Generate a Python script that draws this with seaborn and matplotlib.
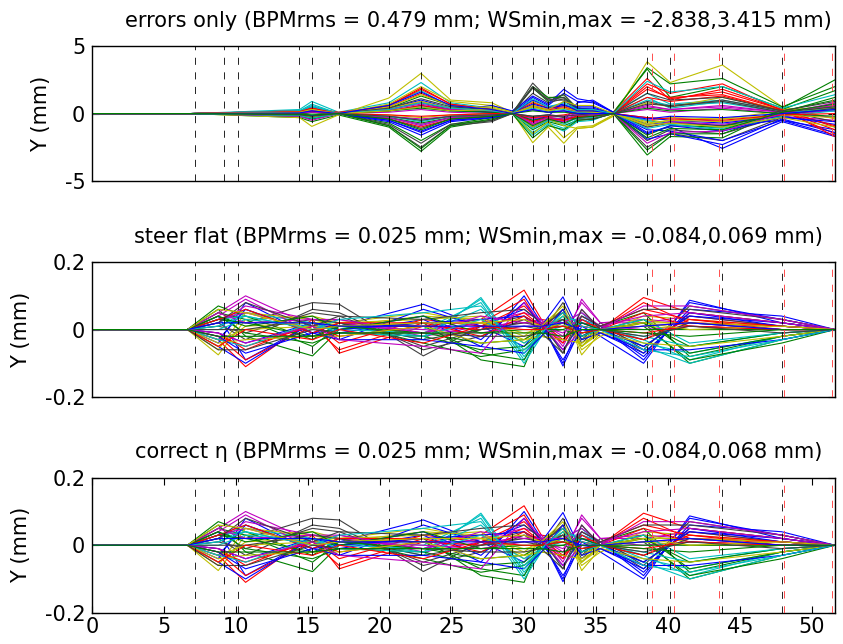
import numpy as np
import pandas as pd
import matplotlib
matplotlib.use("Agg")
import matplotlib.pyplot as plt
import seaborn as sns

sns.set_style("ticks")
plt.rcParams['font.family'] = ['DejaVu Sans']
plt.rcParams['axes.unicode_minus'] = False
plt.rcParams['text.color'] = 'black'
plt.rcParams['axes.labelcolor'] = 'black'
plt.rcParams['xtick.color'] = 'black'
plt.rcParams['ytick.color'] = 'black'

# ---------------- data ----------------
titles = [
    "errors only (BPMrms = 0.479 mm; WSmin,max = -2.838,3.415 mm)",
    "steer flat (BPMrms = 0.025 mm; WSmin,max = -0.084,0.069 mm)",
    "correct \u03b7 (BPMrms = 0.025 mm; WSmin,max = -0.084,0.068 mm)",
]
ylims = [(-5, 5), (-0.2, 0.2), (-0.2, 0.2)]
yticks = [[-5, 0, 5], [-0.2, 0, 0.2], [-0.2, 0, 0.2]]
ytick_labels = [["-5", "0", "5"], ["-0.2", "0", "0.2"], ["-0.2", "0", "0.2"]]
xticks = [0, 5, 10, 15, 20, 25, 30, 35, 40, 45, 50]

black_marks = [7.14, 9.15, 10.10, 14.38, 15.25, 17.14, 20.62, 22.84, 24.88, 27.75,
               29.17, 30.60, 31.67, 32.76, 33.71, 34.77, 36.21, 38.55, 40.15, 43.78, 47.93]
red_marks = [38.92, 40.38, 43.57, 48.09, 51.36]

# errors only: BPM positions and orbits (mm)
err_s = [0, 6.8, 14.4, 15.25, 17.1, 20.6, 22.84, 24.9, 27.75, 29.17, 30.6, 31.67,
         32.76, 33.7, 34.77, 36.2, 38.55, 40.15, 43.78, 47.93, 51.6]
err_y = [
    [0, 0, 0.2, 0.5, 0.05, 0.4, 1.0, 0.4, 0.3, 0.05, 1.2, 0.6, 1.5, 0.9, 0.8, 0.1, -0.8, -0.6, -0.9, -0.5, -1.2],
    [0, 0, -0.3, -0.6, -0.1, -1.0, -2.8, -1.0, -0.5, 0.1, 1.9, 0.9, 1.4, 0.3, 0.2, 0.1, 3.3, 1.2, 2.0, 0.4, 2.5],
    [0, 0, 0.1, 0.3, 0.0, 0.6, 1.9, 0.7, 0.3, 0.0, -0.6, -0.3, -0.5, -0.2, -0.3, 0.1, 2.6, 1.0, 1.8, 0.3, -1.0],
    [0, 0, 0.3, 0.9, 0.1, 0.8, 2.3, 0.8, 0.4, 0.0, -1.6, -0.8, -1.3, -0.6, -0.5, 0.1, 1.5, 0.7, 1.0, 0.2, 0.5],
    [0, 0, -0.2, -0.4, 0.0, -0.3, -0.9, -0.3, -0.1, 0.0, 0.6, 0.3, 0.4, 0.2, 0.1, 0.0, -0.5, -0.3, -0.6, -0.2, 0.3],
    [0, 0, -0.3, -0.95, -0.1, 1.15, 2.98, 1.0, 0.8, 0.1, -2.16, -1.0, -2.2, -1.1, -1.0, -0.2, 3.84, 2.3, 3.6, 0.5, -0.4],
    [0, 0, 0.2, 0.4, 0.0, -0.9, -2.5, -0.9, -0.6, 0.0, 2.26, 1.1, 1.4, 0.4, 0.3, 0.0, -2.5, -1.5, -2.0, -0.3, 0.8],
    [0, 0, -0.1, -0.3, 0.0, -0.5, -1.3, -0.5, -0.2, 0.1, -1.0, -0.5, -0.6, 0.8, 1.0, 0.1, -1.4, -1.0, -2.58, -0.6, -1.7],
    [0, 0, 0.1, 0.2, 0.0, -0.7, -2.0, -0.8, -0.3, 0.0, -1.2, -0.6, -0.9, -0.5, -0.4, 0.0, -3.07, -1.7, -1.8, 0.3, 1.7],
    [0, 0, 0.2, 0.4, 0.1, 0.5, 1.5, 0.6, 0.2, 0.0, 0.5, 0.3, 0.4, 0.1, 0.2, 0.0, 1.8, 1.2, 1.4, 0.2, -1.5],
    [0, 0, 0.15, 0.5, 0.0, -0.2, -0.5, -0.2, 0.0, 0.0, -1.4, -0.7, -1.1, -0.4, -0.2, 0.0, 1.0, 0.6, 0.8, 0.1, 0.3],
    [0, 0, 0.1, 0.3, 0.0, 0.3, 0.9, 0.3, 0.1, 0.0, -0.4, -0.2, -0.2, 0.0, 0.0, 0.0, -1.0, -0.6, -0.8, -0.2, -0.5],
    [0, 0, 0.1, 0.2, 0.0, 0.7, 2.0, 0.9, 0.6, 0.1, -1.5, -0.6, -1.8, -1.0, -0.9, -0.1, 0.8, 0.5, 1.2, 0.3, 0.4],
    [0, 0, -0.1, -0.2, 0.0, -0.8, -2.2, -0.8, -0.5, 0.0, 1.5, 0.8, 1.1, 0.3, 0.2, 0.0, -2.0, -1.2, -1.5, -0.2, 0.6],
    [0, 0, 0.1, 0.3, 0.0, 0.2, 0.5, 0.2, 0.6, 0.2, 1.3, 0.7, 1.8, 1.1, 0.9, 0.1, -1.9, -1.5, -2.3, -0.4, -1.4],
    [0, 0, -0.2, -0.4, 0.0, 0.4, 1.3, 0.6, 0.3, 0.0, 2.0, 1.2, 1.2, 0.4, 0.3, 0.0, 3.4, 2.2, 2.6, 0.5, 2.0],
    [0, 0, -0.1, -0.2, 0.0, -0.4, -1.0, -0.4, -0.2, 0.0, -0.8, -0.4, -0.5, -0.2, -0.2, 0.0, 2.2, 1.5, 2.2, 0.2, -1.2],
    [0, 0, 0.2, 0.7, 0.0, 0.6, 1.7, 0.5, 0.2, 0.0, 0.3, 0.1, 0.2, 0.1, 0.0, 0.0, 1.2, 0.4, 0.9, 0.1, 0.2],
    [0, 0, -0.2, -0.5, 0.0, -0.2, -0.4, -0.2, 0.0, 0.0, 0.3, 0.1, 0.2, 0.0, 0.0, 0.0, 0.5, 0.3, 0.6, 0.1, -0.3],
    [0, 0, 0.1, 0.3, 0.0, 0.5, 1.4, 0.6, 0.4, 0.0, 0.9, 0.4, 0.6, 0.2, 0.2, 0.0, -0.6, -0.3, -0.4, -0.1, 0.5],
    [0, 0, 0.0, 0.1, 0.0, 0.3, 0.8, 0.3, 0.1, 0.0, 2.0, 1.0, 1.0, 0.2, 0.1, 0.0, 0.9, 0.5, 1.0, 0.2, -0.6],
    [0, 0, 0.1, 0.2, 0.0, -0.6, -1.6, -0.6, -0.3, 0.0, -0.5, -0.2, 0.9, 0.5, 0.5, 0.0, -1.2, -1.3, -2.0, -0.5, -1.6],
    [0, 0, -0.1, -0.3, 0.0, -0.9, -2.6, -0.9, -0.4, 0.0, -1.8, -0.9, -1.2, -0.5, -0.4, 0.0, -2.7, -1.5, -1.5, 0.1, 1.2],
    [0, 0, 0.1, 0.2, 0.0, 0.6, 1.8, 0.7, 0.3, 0.0, 0.8, 0.4, 0.5, 0.2, 0.1, 0.0, 2.0, 1.1, 1.6, 0.3, -1.7],
    [0, 0, 0.2, 0.6, 0.0, -0.3, -0.8, -0.3, 0.0, 0.0, -1.1, -0.5, -0.8, -0.3, -0.3, 0.0, -0.5, -0.8, -1.1, 0.0, 0.4],
    [0, 0, 0.1, 0.2, 0.0, 0.1, 0.3, 0.1, 0.0, 0.0, -0.3, -0.1, -0.2, -0.1, 0.0, 0.0, 0.3, 0.1, 0.4, 0.0, 0.2],
    [0, 0, 0.1, 0.3, 0.0, 0.4, 0.9, 0.4, 0.5, 0.1, -1.0, -0.4, -0.9, -1.1, -1.0, -0.1, -0.8, -0.5, -0.4, 0.2, 0.6],
    [0, 0, 0.0, 0.1, 0.0, -0.4, -1.1, -0.4, -0.2, 0.0, 1.9, 1.0, 1.2, 0.3, 0.3, 0.0, -1.0, -0.7, -0.9, -0.1, 0.4],
    [0, 0, -0.1, -0.2, 0.0, 0.2, 0.6, 0.2, 0.1, 0.0, 0.7, 0.4, 0.6, 0.4, 0.4, 0.0, -0.3, -0.5, -0.7, -0.2, -0.8],
    [0, 0, 0.1, 0.2, 0.0, -0.3, -0.7, -0.3, -0.1, 0.0, -0.5, -0.3, -0.4, -0.2, -0.1, 0.0, -1.6, -0.9, -1.0, 0.2, 1.0],
    [0, 0, 0.05, 0.15, 0.0, 0.2, 0.6, 0.3, 0.2, 0.0, -0.3, -0.2, -0.1, 0.1, 0.1, 0.0, 1.2, 0.9, 1.3, 0.2, -0.9],
    [0, 0, -0.05, -0.1, 0.0, -0.2, -0.6, -0.2, -0.1, 0.0, 0.4, 0.2, 0.3, 0.1, 0.1, 0.0, -1.1, -0.8, -1.2, -0.2, 0.2],
    [0, 0, 0.1, 0.25, 0.0, 0.3, 0.7, 0.3, 0.2, 0.0, -0.8, -0.4, -0.6, -0.3, -0.2, 0.0, 0.6, 0.3, 0.5, 0.1, 0.6],
    [0, 0, -0.1, -0.25, 0.0, -0.1, -0.3, -0.1, 0.0, 0.0, 0.5, 0.2, 0.4, 0.2, 0.1, 0.0, -0.7, -0.5, -0.6, -0.1, -0.3],
    [0, 0, 0.05, 0.1, 0.0, 0.4, 1.1, 0.5, 0.3, 0.0, -0.2, -0.1, -0.3, -0.4, -0.4, 0.0, 1.5, 1.0, 1.2, 0.2, 0.9],
    [0, 0, -0.05, -0.15, 0.0, -0.5, -1.4, -0.5, -0.3, 0.0, 1.0, 0.5, 0.7, 0.2, 0.2, 0.0, -1.5, -0.9, -1.3, -0.3, -0.6],
    [0, 0, 0.0, 0.05, 0.0, 0.2, 0.4, 0.2, 0.1, 0.0, 0.2, 0.1, 0.1, 0.0, 0.0, 0.0, 0.4, 0.2, 0.3, 0.0, -0.2],
    [0, 0, 0.15, 0.4, 0.0, -0.1, -0.2, -0.1, 0.0, 0.0, -0.6, -0.3, -0.5, -0.2, -0.2, 0.0, -0.3, -0.4, -0.5, -0.1, 0.0],
    [0, 0, -0.15, -0.35, 0.0, 0.3, 0.8, 0.4, 0.2, 0.0, 1.1, 0.5, 0.8, 0.3, 0.3, 0.0, 2.4, 1.6, 2.0, 0.4, 1.4],
    [0, 0, 0.05, 0.1, 0.0, -0.3, -0.8, -0.3, -0.1, 0.0, -0.7, -0.3, -0.4, -0.1, -0.1, 0.0, -2.2, -1.4, -1.3, 0.0, 0.8],
    [0, 0, 0.1, 0.3, 0.0, 0.2, 0.5, 0.2, 0.3, 0.0, 0.6, 0.3, 0.9, 0.6, 0.6, 0.0, -0.9, -0.7, -1.0, -0.3, -1.0],
    [0, 0, -0.1, -0.2, 0.0, -0.2, -0.5, -0.2, -0.1, 0.0, -0.2, -0.1, -0.2, -0.1, 0.0, 0.0, 0.7, 0.6, 0.9, 0.1, 0.5],
    [0, 0, 0.05, 0.2, 0.0, 0.6, 1.6, 0.6, 0.3, 0.0, 0.3, 0.1, 0.2, 0.0, 0.0, 0.0, -0.4, -0.2, -0.3, 0.0, 0.3],
    [0, 0, -0.05, -0.1, 0.0, -0.4, -1.2, -0.4, -0.2, 0.0, -0.9, -0.4, -0.7, -0.3, -0.2, 0.0, -1.8, -1.1, -1.2, 0.1, 0.7],
]

# steer flat / correct eta: BPM positions and orbits (mm)
flat_s = [0, 6.6, 8.75, 10.65, 15.3, 17.15, 23.0, 27.0, 30.0, 31.2, 32.7, 34.0,
          35.3, 38.3, 41.5, 47.9, 51.6]
flat_y = [
    [0, 0, 0.04, -0.09, 0.02, 0.01, 0.075, 0.01, 0.06, 0.02, -0.10, 0.03, 0.01, -0.09, 0.08, 0.03, 0],
    [0, 0, 0.06, -0.02, -0.078, 0.0, 0.02, -0.09, -0.11, 0.01, 0.03, -0.05, 0.0, 0.02, -0.10, -0.03, 0],
    [0, 0, -0.03, -0.11, 0.03, -0.07, 0.01, 0.03, 0.117, 0.03, 0.02, 0.01, 0.0, 0.095, 0.05, 0.02, 0],
    [0, 0, 0.02, 0.06, -0.01, 0.02, -0.03, 0.095, -0.08, -0.02, 0.04, 0.02, 0.01, -0.03, -0.09, -0.02, 0],
    [0, 0, 0.05, 0.10, 0.01, 0.03, -0.02, 0.01, 0.02, 0.03, -0.04, 0.09, 0.02, 0.03, 0.02, 0.01, 0],
    [0, 0, -0.075, 0.03, 0.04, 0.02, 0.05, 0.02, -0.03, 0.01, 0.06, -0.075, -0.01, 0.04, 0.03, 0.01, 0],
    [0, 0, 0.03, 0.02, 0.08, 0.075, -0.078, 0.01, 0.04, -0.01, 0.08, -0.03, 0.02, -0.06, 0.07, 0.03, 0],
    [0, 0, -0.04, 0.08, -0.02, -0.01, 0.03, -0.05, 0.10, 0.02, -0.108, 0.01, -0.02, -0.10, 0.087, 0.02, 0],
    [0, 0, 0.07, 0.04, -0.03, 0.02, -0.04, -0.08, -0.06, -0.02, -0.03, 0.04, 0.01, 0.05, -0.08, -0.02, 0],
    [0, 0, -0.02, -0.09, 0.01, -0.06, 0.02, 0.02, 0.09, 0.01, 0.03, -0.02, 0.0, 0.08, 0.02, 0.01, 0],
    [0, 0, 0.01, 0.05, 0.02, 0.01, -0.02, 0.09, -0.09, -0.01, 0.02, 0.05, 0.0, -0.05, -0.10, -0.03, 0],
    [0, 0, 0.04, 0.09, -0.01, 0.02, 0.01, 0.0, 0.03, 0.02, -0.02, 0.08, 0.02, 0.02, 0.04, 0.01, 0],
    [0, 0, -0.06, 0.05, 0.03, 0.01, 0.04, 0.03, -0.02, 0.02, 0.05, -0.06, -0.02, 0.03, 0.01, 0.0, 0],
    [0, 0, 0.02, -0.03, 0.06, 0.05, -0.06, -0.02, 0.03, 0.0, 0.06, -0.04, 0.01, -0.07, 0.05, 0.02, 0],
    [0, 0, -0.05, -0.10, 0.02, -0.03, 0.06, 0.01, -0.05, 0.01, 0.097, -0.02, 0.01, -0.08, 0.06, 0.04, 0],
    [0, 0, 0.05, 0.03, -0.05, 0.01, 0.01, -0.07, -0.09, 0.0, 0.02, -0.03, 0.0, 0.01, -0.09, -0.04, 0],
    [0, 0, -0.01, -0.06, 0.02, -0.04, 0.03, 0.01, 0.07, 0.02, -0.03, 0.02, 0.01, 0.06, 0.03, 0.0, 0],
    [0, 0, 0.03, 0.04, 0.0, 0.01, 0.0, 0.08, -0.10, -0.02, 0.03, 0.03, 0.01, -0.04, -0.07, -0.02, 0],
    [0, 0, 0.02, 0.07, 0.03, 0.02, -0.01, 0.02, 0.05, 0.03, -0.05, 0.06, 0.0, 0.01, 0.02, 0.0, 0],
    [0, 0, -0.05, 0.01, 0.02, 0.02, 0.03, 0.04, -0.04, 0.0, 0.04, -0.05, -0.01, 0.02, 0.02, 0.01, 0],
    [0, 0, 0.01, -0.01, 0.05, 0.04, -0.05, 0.0, 0.02, 0.01, 0.05, -0.02, 0.01, -0.05, 0.04, 0.01, 0],
    [0, 0, -0.03, 0.06, -0.01, 0.0, 0.04, -0.03, 0.08, 0.01, -0.09, 0.0, -0.01, -0.07, 0.05, 0.01, 0],
    [0, 0, 0.04, -0.01, -0.04, -0.01, -0.02, -0.06, -0.05, -0.01, 0.0, -0.02, 0.0, 0.03, -0.07, -0.02, 0],
    [0, 0, -0.02, -0.05, 0.01, -0.02, 0.01, 0.0, 0.05, 0.01, 0.01, 0.01, 0.0, 0.05, 0.01, 0.0, 0],
    [0, 0, 0.0, 0.03, 0.01, 0.0, -0.01, 0.06, -0.06, -0.01, 0.01, 0.02, 0.0, -0.02, -0.05, -0.01, 0],
    [0, 0, 0.03, 0.05, 0.0, 0.01, 0.0, -0.01, 0.01, 0.01, -0.01, 0.04, 0.01, 0.0, 0.01, 0.0, 0],
    [0, 0, -0.03, 0.0, 0.01, 0.01, 0.02, 0.02, -0.01, 0.0, 0.02, -0.03, 0.0, 0.01, 0.0, 0.0, 0],
    [0, 0, 0.0, 0.0, 0.03, 0.02, -0.03, 0.0, 0.01, 0.0, 0.03, -0.01, 0.0, -0.03, 0.02, 0.0, 0],
    [0, 0, -0.01, -0.04, 0.02, 0.0, 0.02, 0.03, 0.04, 0.01, -0.06, 0.02, 0.0, -0.05, 0.04, 0.02, 0],
    [0, 0, 0.03, 0.02, -0.02, 0.01, -0.01, -0.04, -0.03, 0.0, 0.01, -0.01, 0.0, 0.02, -0.05, -0.01, 0],
    [0, 0, 0.03, 0.06, -0.01, 0.02, 0.02, -0.02, 0.04, 0.01, -0.04, 0.03, 0.0, -0.03, 0.03, 0.01, 0],
    [0, 0, -0.03, -0.05, 0.02, -0.01, -0.02, 0.03, -0.04, -0.01, 0.04, -0.02, 0.0, 0.03, -0.04, -0.01, 0],
    [0, 0, 0.05, 0.02, 0.03, 0.03, -0.01, 0.04, 0.02, 0.02, 0.02, 0.05, 0.01, 0.04, 0.05, 0.02, 0],
    [0, 0, -0.04, -0.03, -0.02, -0.02, 0.01, -0.04, -0.03, -0.02, -0.03, -0.04, -0.01, -0.04, -0.05, -0.02, 0],
    [0, 0, 0.02, 0.08, 0.01, 0.04, 0.03, 0.05, 0.06, 0.02, -0.07, 0.04, 0.01, 0.06, 0.06, 0.03, 0],
    [0, 0, -0.02, -0.07, -0.01, -0.03, -0.03, -0.05, -0.07, -0.02, 0.06, -0.03, -0.01, -0.06, -0.06, -0.03, 0],
    [0, 0, 0.04, 0.01, 0.04, 0.0, 0.04, -0.01, 0.0, 0.0, 0.0, 0.02, 0.0, 0.0, 0.0, 0.0, 0],
    [0, 0, -0.05, 0.0, -0.03, 0.0, -0.04, 0.01, 0.0, 0.0, 0.01, -0.01, 0.0, -0.01, 0.01, 0.0, 0],
    [0, 0, 0.01, 0.04, 0.0, 0.03, 0.05, 0.07, -0.07, -0.01, 0.05, 0.01, 0.0, -0.06, -0.08, -0.03, 0],
    [0, 0, -0.01, -0.04, 0.01, -0.03, -0.05, -0.07, 0.08, 0.02, -0.06, 0.0, 0.0, 0.07, 0.07, 0.03, 0],
    [0, 0, 0.06, 0.05, 0.0, 0.01, 0.02, 0.02, 0.03, 0.01, 0.07, -0.05, 0.0, 0.02, 0.0, 0.01, 0],
    [0, 0, -0.06, -0.06, 0.0, -0.01, -0.01, -0.02, -0.02, -0.01, -0.07, 0.06, 0.0, -0.02, 0.01, -0.01, 0],
    [0, 0, 0.02, 0.02, 0.02, 0.01, 0.01, 0.01, 0.01, 0.01, 0.02, 0.0, 0.0, 0.01, 0.02, 0.0, 0],
    [0, 0, -0.02, -0.02, -0.02, -0.01, -0.01, -0.01, -0.01, -0.01, -0.02, 0.0, 0.0, -0.01, -0.02, 0.0, 0],
]
eta_s = flat_s
eta_y = flat_y

matlab_colors = [(0, 0, 1), (0, 0.5, 0), (1, 0, 0), (0, 0.75, 0.75),
                 (0.75, 0, 0.75), (0.75, 0.75, 0), (0.25, 0.25, 0.25)]


def long_frame(s, rows):
    recs = []
    for i, r in enumerate(rows):
        for x, y in zip(s, r):
            recs.append((i, x, y))
    return pd.DataFrame(recs, columns=["run", "s", "y"])


frames = [long_frame(err_s, err_y), long_frame(flat_s, flat_y), long_frame(eta_s, eta_y)]

# ---------------- figure ----------------
FS = 15
fig = plt.figure(figsize=(8.43, 6.44), dpi=100)
L, W, H = 0.1095, 0.881, 0.2095
bottoms = [0.7189, 0.3835, 0.0486]
axes = [fig.add_axes([L, b, W, H]) for b in bottoms]

for k, (ax, df) in enumerate(zip(axes, frames)):
    n = df["run"].nunique()
    pal = [matlab_colors[i % 7] for i in range(n)]
    sns.lineplot(data=df, x="s", y="y", hue="run", palette=pal, legend=False,
                 estimator=None, sort=False, linewidth=0.8, ax=ax)
    lo, hi = ylims[k]
    for xm in black_marks:
        ax.plot([xm, xm], [lo, hi], color="black", lw=0.6, dashes=(8.5, 9), zorder=3)
    for xm in red_marks:
        ax.plot([xm, xm], [lo, hi], color=(1, 0.3, 0.3), lw=0.7, dashes=(7.5, 8), zorder=3)
    ax.set_xlim(0, 51.6)
    ax.set_ylim(lo, hi)
    ax.set_yticks(yticks[k])
    ax.set_yticklabels(ytick_labels[k])
    ax.set_ylabel("Y (mm)", fontsize=FS, labelpad=10)
    ax.set_xlabel("")
    ax.set_title(titles[k], fontsize=FS, pad=14, x=0.52)
    for sp in ax.spines.values():
        sp.set_visible(True)
        sp.set_color("black")
        sp.set_linewidth(1.0)
    ax.tick_params(axis="y", direction="in", length=5, labelsize=FS, right=True, pad=5,
                   colors="black")
    if k == 2:
        ax.set_xticks(xticks)
        ax.set_xticklabels([str(t) for t in xticks])
        ax.tick_params(axis="x", direction="in", length=5, labelsize=FS, top=True, pad=3,
                       colors="black")
    else:
        ax.set_xticks([])

fig.savefig("out.png", dpi=100)
